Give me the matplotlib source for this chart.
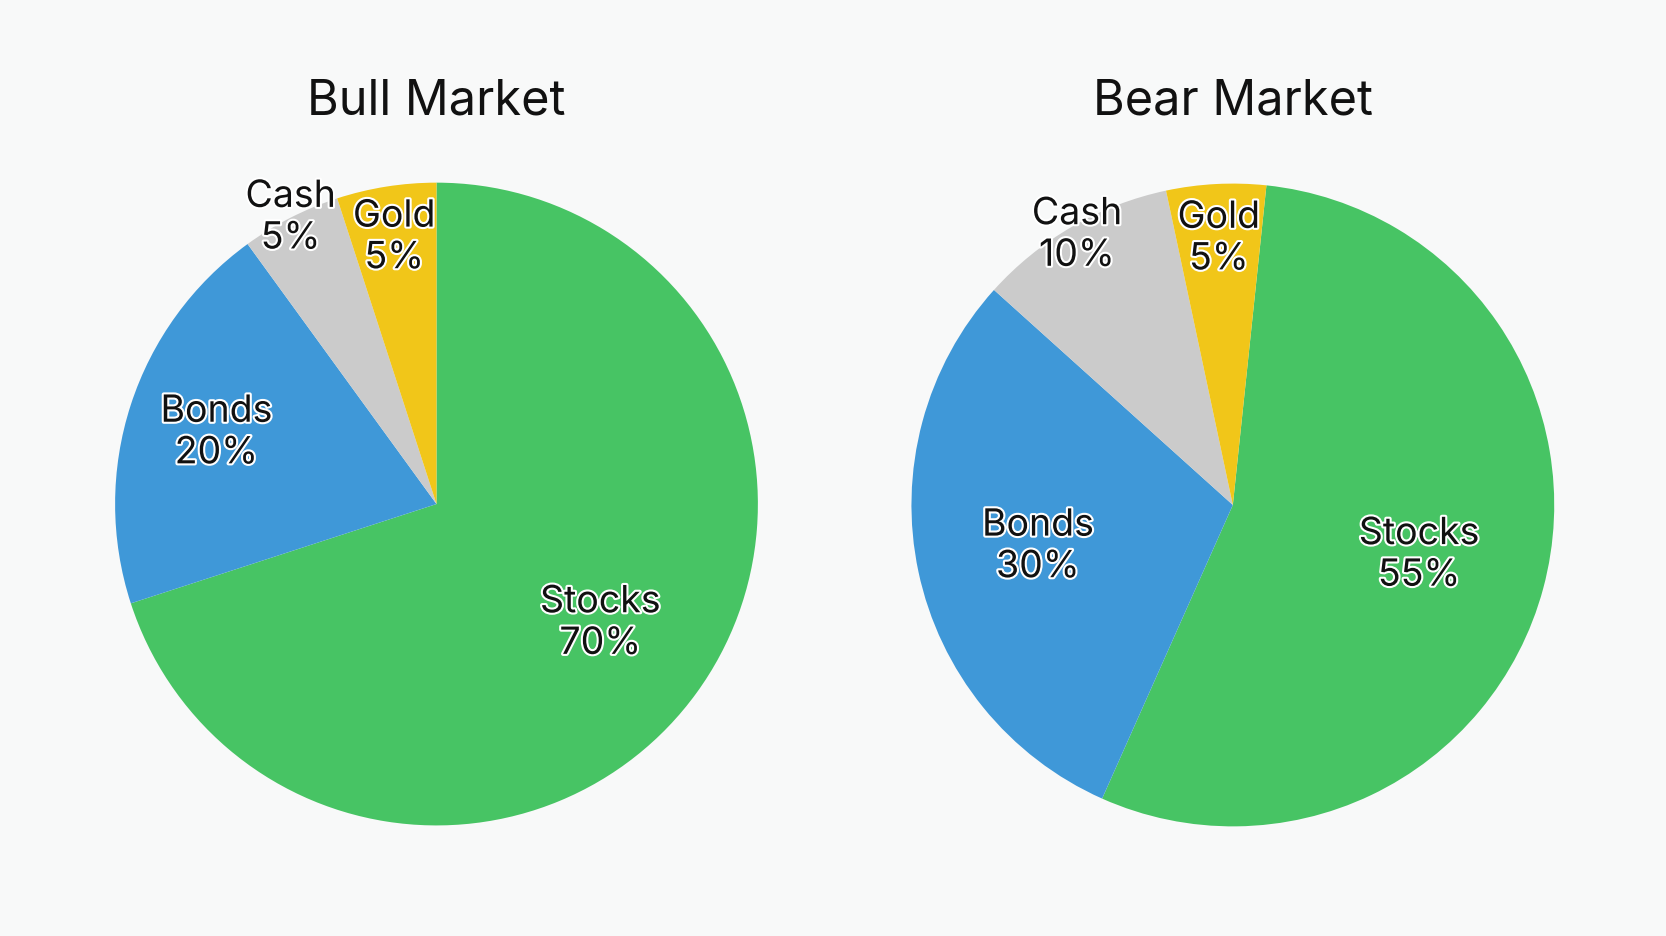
import matplotlib
matplotlib.use("Agg")
import matplotlib.pyplot as plt
import matplotlib.patheffects as pe
import numpy as np

plt.rcParams['font.family'] = ['Inter', 'DejaVu Sans']

categories = ["Stocks", "Bonds", "Cash", "Gold"]
bull_values = [70, 20, 5, 5]
bear_values = [55, 30, 10, 5]
titles = ["Bull Market", "Bear Market"]
colors = ["#47c464", "#3f98d8", "#cbcbcb", "#f1c619"]

fig = plt.figure(figsize=(16.66, 9.37), dpi=100, facecolor="#f8f9f9")
rw, rh = 0.193, 0.343
specs = [(0.262, 0.461, bull_values, 90, [0.63, 0.72, 1.0, 0.84]),
         (0.740, 0.460, bear_values, 84, [0.6, 0.62, 0.97, 0.83])]
for (cx, cy, vals, start, rads), title in zip(specs, titles):
    ax = fig.add_axes([cx - rw, cy - rh, 2 * rw, 2 * rh])
    ax.set_facecolor("none")
    wedges, _ = ax.pie(vals, colors=colors, startangle=start, counterclock=False,
                       wedgeprops=dict(linewidth=0))
    ax.set_xlim(-1, 1)
    ax.set_ylim(-1, 1)
    ax.set_aspect("equal")
    for w, cat, v, r in zip(wedges, categories, vals, rads):
        ang = np.deg2rad((w.theta1 + w.theta2) / 2)
        ax.text(r * np.cos(ang), r * np.sin(ang), f"{cat}\n{v}%", ha="center", va="center",
                fontsize=27, color="#111111", linespacing=1.2, clip_on=False,
                path_effects=[pe.withStroke(linewidth=3, foreground="white")])
    fig.text(cx, 0.892, title, ha="center", va="center", fontsize=35, color="#111111")

fig.savefig("out.png", dpi=100, facecolor=fig.get_facecolor())
